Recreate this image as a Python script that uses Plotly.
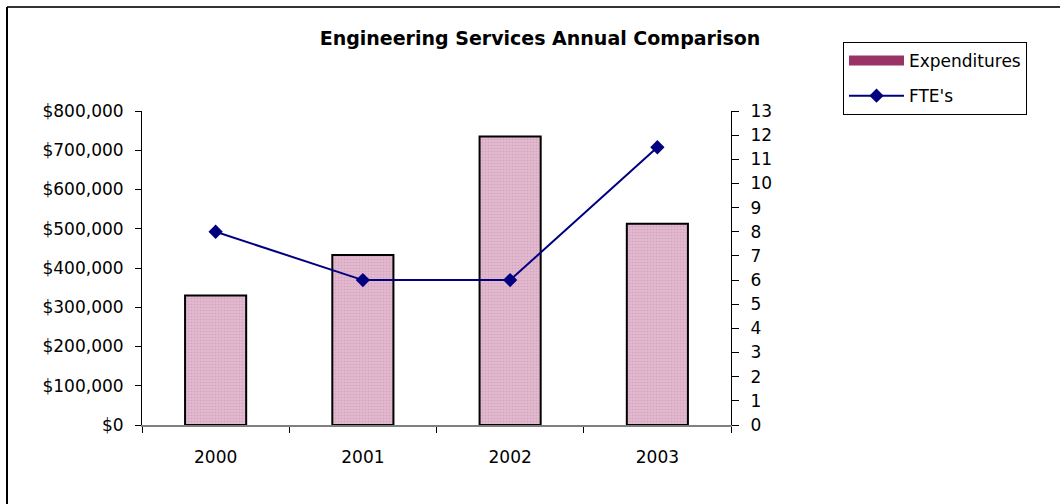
import plotly.graph_objects as go

years = ["2000", "2001", "2002", "2003"]
expenditures = [330000, 433000, 735000, 513000]
ftes = [8, 6, 6, 11.5]

W, H = 1060, 504
L, R, T, B = 142, 731, 111, 425
pw, ph = R - L, B - T

def px(x):
    return (x - L) / pw

def py(y):
    return (B - y) / ph

font = "DejaVu Sans, Liberation Sans, Arial, sans-serif"

fig = go.Figure()
fig.add_trace(go.Bar(
    x=years, y=expenditures, name="Expenditures", showlegend=False,
    marker=dict(color="#DDB0C8", line=dict(color="black", width=2),
                pattern=dict(shape=".", fgcolor="#C890AE", bgcolor="#E4BCD1", size=3, solidity=0.4)),
    width=0.415, yaxis="y",
))
# legend entry for the bar series (wide maroon swatch as in the reference)
fig.add_trace(go.Scatter(
    x=years, y=[None] * len(years), name="Expenditures", mode="lines",
    line=dict(color="#993366", width=11), legendgroup="a",
    yaxis="y",
))
fig.add_trace(go.Scatter(
    x=years, y=ftes, name="FTE's", mode="lines+markers",
    line=dict(color="#000080", width=2),
    marker=dict(symbol="diamond", size=11, color="#000080"),
    yaxis="y2", legendgroup="b",
))

fig.update_layout(
    width=W, height=H,
    margin=dict(l=L, r=W - R, t=T, b=H - B, pad=0),
    paper_bgcolor="white", plot_bgcolor="white",
    barmode="overlay",
    font=dict(family=font, size=17, color="black"),
    title=dict(text="<b>Engineering Services Annual Comparison</b>",
               font=dict(family=font, size=19, color="black"),
               x=540 / W, xanchor="center", xref="container",
               y=1 - 38 / H, yanchor="middle", yref="container"),
    xaxis=dict(type="category", showgrid=False, showline=True, linecolor="#808080", linewidth=1.5,
               ticks="outside", tickson="boundaries", ticklen=6, tickcolor="black",
               ticklabelstandoff=16, tickfont=dict(size=17)),
    yaxis=dict(range=[0, 800000], dtick=100000, tickformat="$,.0f", showgrid=False,
               showline=True, linecolor="black", linewidth=1, ticks="outside", ticklen=6,
               tickcolor="black", ticklabelstandoff=8, zeroline=False, tickfont=dict(size=17)),
    yaxis2=dict(range=[0, 13], dtick=1, overlaying="y", side="right", showgrid=False,
                showline=True, linecolor="black", linewidth=1, ticks="outside", ticklen=7,
                tickcolor="black", ticklabelstandoff=8, zeroline=False, tickfont=dict(size=17)),
    legend=dict(x=px(843), y=py(42), xanchor="left", yanchor="top",
                bordercolor="black", borderwidth=1, bgcolor="white",
                font=dict(size=17), tracegroupgap=10, itemwidth=55,
                entrywidth=135, entrywidthmode="pixels"),
    shapes=[
        dict(type="line", xref="paper", yref="paper", x0=px(7), x1=px(1062), y0=py(7), y1=py(7),
             line=dict(color="#333333", width=2)),
        dict(type="line", xref="paper", yref="paper", x0=px(7), x1=px(7), y0=py(7), y1=py(506),
             line=dict(color="black", width=2)),
    ],
)

fig.write_html("out.html", config={"displayModeBar": False},
               post_script="document.body.style.margin='0';")
